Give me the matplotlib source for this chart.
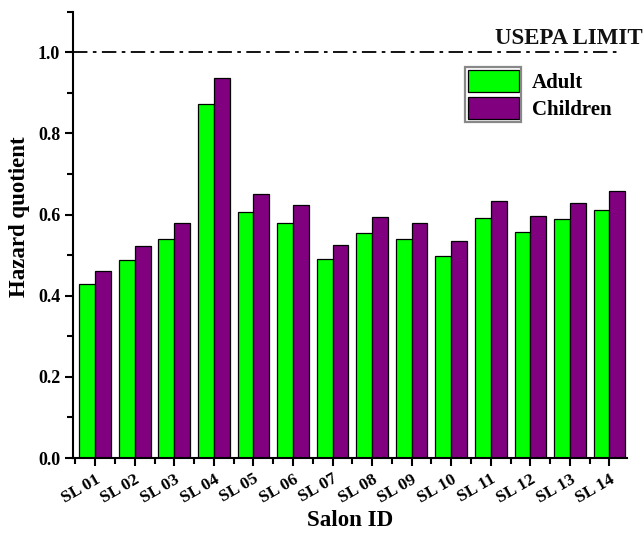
import numpy as np
import matplotlib
matplotlib.use("Agg")
import matplotlib.pyplot as plt
from matplotlib.patches import Rectangle
from matplotlib.ticker import MultipleLocator, FixedLocator

salons = ["SL 01", "SL 02", "SL 03", "SL 04", "SL 05", "SL 06", "SL 07",
          "SL 08", "SL 09", "SL 10", "SL 11", "SL 12", "SL 13", "SL 14"]
adult = [0.430, 0.487, 0.541, 0.873, 0.607, 0.580, 0.490,
         0.555, 0.541, 0.499, 0.591, 0.557, 0.588, 0.612]
children = [0.462, 0.522, 0.580, 0.936, 0.652, 0.623, 0.526,
            0.593, 0.579, 0.535, 0.634, 0.597, 0.628, 0.657]
limit = 1.0

plt.rcParams['font.family'] = ['Liberation Serif', 'DejaVu Serif']
plt.rcParams['font.weight'] = 'bold'

fig = plt.figure(figsize=(6.44, 5.36), dpi=100)
ax = fig.add_axes([0.114, 0.1455, 0.86, 0.8325])

x = np.arange(1, len(salons) + 1)
w = 0.4
ax.bar(x - w / 2, adult, w, color='#00ff00', edgecolor='black', linewidth=0.9, label='Adult')
ax.bar(x + w / 2, children, w, color='#800080', edgecolor='black', linewidth=0.9, label='Children')

# USEPA limit line
ax.axhline(limit, xmax=0.988, color='black', linestyle=(0, (8, 3, 2, 3)), linewidth=1.3)
ax.text(14.84, 1.02, 'USEPA LIMIT', ha='right', va='baseline', fontsize=16.5,
        fontweight='bold', color='#111111', clip_on=False)

ax.set_xlim(0.45, 14.45)
ax.set_ylim(0, 1.1)
ax.set_xticks(x)
ax.set_xticklabels(salons, rotation=30, ha='right', rotation_mode='anchor',
                   fontsize=12.5, fontweight='bold')
ax.xaxis.set_minor_locator(FixedLocator(np.arange(0.5, 15, 1.0)))
ax.yaxis.set_minor_locator(MultipleLocator(0.1))
ax.set_yticks([0.0, 0.2, 0.4, 0.6, 0.8, 1.0])
ax.set_yticklabels(['0.0', '0.2', '0.4', '0.6', '0.8', '1.0'], fontsize=13, fontweight='bold')
ax.tick_params(which='major', direction='out', length=6, width=1.5)
ax.tick_params(which='minor', direction='out', length=4, width=1.5)

for s in ['top', 'right']:
    ax.spines[s].set_visible(False)
for s in ['left', 'bottom']:
    ax.spines[s].set_linewidth(1.5)

ax.set_xlabel('Salon ID', fontsize=16.5, fontweight='bold', labelpad=3)
ax.set_ylabel('Hazard quotient', fontsize=16.5, fontweight='bold')
ax.yaxis.set_label_coords(-0.078, 0.54)

leg = ax.legend(loc='upper left', bbox_to_anchor=(0.705, 0.879), frameon=False,
                fontsize=15, handlelength=2.45, handleheight=1.25,
                labelspacing=0.2, handletextpad=0.6, borderpad=0.2,
                borderaxespad=0)
for t in leg.get_texts():
    t.set_fontweight('bold')

# grey box around the legend swatches only
fig.canvas.draw()
r = fig.canvas.get_renderer()
boxes = [h.get_window_extent(r) for h in leg.legend_handles]
x0 = min(b.x0 for b in boxes) - 3
y0 = min(b.y0 for b in boxes) - 3
x1 = max(b.x1 for b in boxes) + 2
y1 = max(b.y1 for b in boxes) + 3
fig.add_artist(Rectangle((x0, y0), x1 - x0, y1 - y0, transform=None,
                         fill=False, edgecolor='#888888', linewidth=1.6))

fig.savefig('out.png', dpi=100)
